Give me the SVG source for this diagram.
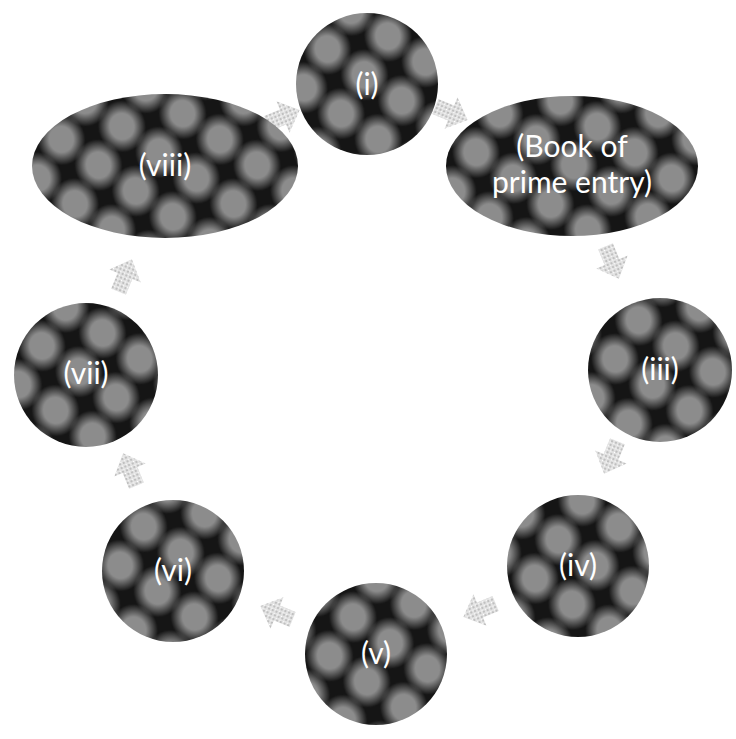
<svg xmlns="http://www.w3.org/2000/svg" width="736" height="739" viewBox="0 0 736 739">
  <defs>
    <radialGradient id="blob">
      <stop offset="0" stop-color="#8c8c8c"/>
      <stop offset="0.5" stop-color="#8c8c8c"/>
      <stop offset="1" stop-color="#8c8c8c" stop-opacity="0"/>
    </radialGradient>
    <pattern id="tex" patternUnits="userSpaceOnUse" width="62" height="66" patternTransform="rotate(-12)">
      <rect width="62" height="66" fill="#151515"/>
      <g fill="url(#blob)">
        <ellipse cx="31" cy="17" rx="24" ry="26"/>
        <ellipse cx="0" cy="50" rx="24" ry="26"/>
        <ellipse cx="62" cy="50" rx="24" ry="26"/>
        <ellipse cx="31" cy="83" rx="24" ry="26"/>
        <ellipse cx="0" cy="-16" rx="24" ry="26"/>
        <ellipse cx="62" cy="-16" rx="24" ry="26"/>
      </g>
    </pattern>
    <pattern id="atex" patternUnits="userSpaceOnUse" width="4" height="4">
      <rect width="4" height="4" fill="#dcdcdc"/>
      <rect width="2" height="2" fill="#b0b0b0"/>
      <rect x="2" y="2" width="1" height="1" fill="#ffffff"/>
    </pattern>
    <path id="arr" d="M-17,-8 L0,-8 L0,-17 L18,0 L0,17 L0,8 L-17,8 Z"/>
  </defs>
  <style>
    .node { fill: url(#tex); }
    .lbl { font-family: Lato, "Liberation Sans", sans-serif; font-size: 30px; fill: #ffffff; text-anchor: middle; }
    .con use { fill: url(#atex); opacity: 0.8; }
  </style>
  <rect width="736" height="739" fill="#ffffff"/>

  <g id="connectors" class="con">
    <use href="#arr" transform="translate(283,117) rotate(-22.5)"/>
    <use href="#arr" transform="translate(451,113) rotate(22.5)"/>
    <use href="#arr" transform="translate(612,262) rotate(67.5)"/>
    <use href="#arr" transform="translate(611,457) rotate(112.5)"/>
    <use href="#arr" transform="translate(480,610) rotate(157.5)"/>
    <use href="#arr" transform="translate(277,613) rotate(202.5)"/>
    <use href="#arr" transform="translate(130,470) rotate(247.5)"/>
    <use href="#arr" transform="translate(125,276) rotate(292.5)"/>
  </g>

  <g id="node-i">
    <circle class="node" cx="367" cy="84" r="71"/>
    <text class="lbl" x="367" y="95">(i)</text>
  </g>
  <g id="node-book">
    <ellipse class="node" cx="572" cy="166" rx="126" ry="70"/>
    <text class="lbl" x="572" y="157">(Book of</text>
    <text class="lbl" x="572" y="193">prime entry)</text>
  </g>
  <g id="node-iii">
    <circle class="node" cx="660" cy="370" r="72"/>
    <text class="lbl" x="660" y="380">(iii)</text>
  </g>
  <g id="node-iv">
    <circle class="node" cx="578" cy="566" r="71"/>
    <text class="lbl" x="578" y="576">(iv)</text>
  </g>
  <g id="node-v">
    <circle class="node" cx="376" cy="654" r="71"/>
    <text class="lbl" x="376" y="664">(v)</text>
  </g>
  <g id="node-vi">
    <circle class="node" cx="173" cy="571" r="71"/>
    <text class="lbl" x="173" y="581">(vi)</text>
  </g>
  <g id="node-vii">
    <circle class="node" cx="86" cy="375" r="72"/>
    <text class="lbl" x="86" y="384">(vii)</text>
  </g>
  <g id="node-viii">
    <ellipse class="node" cx="165" cy="166" rx="133" ry="72"/>
    <text class="lbl" x="165" y="176">(viii)</text>
  </g>
</svg>
